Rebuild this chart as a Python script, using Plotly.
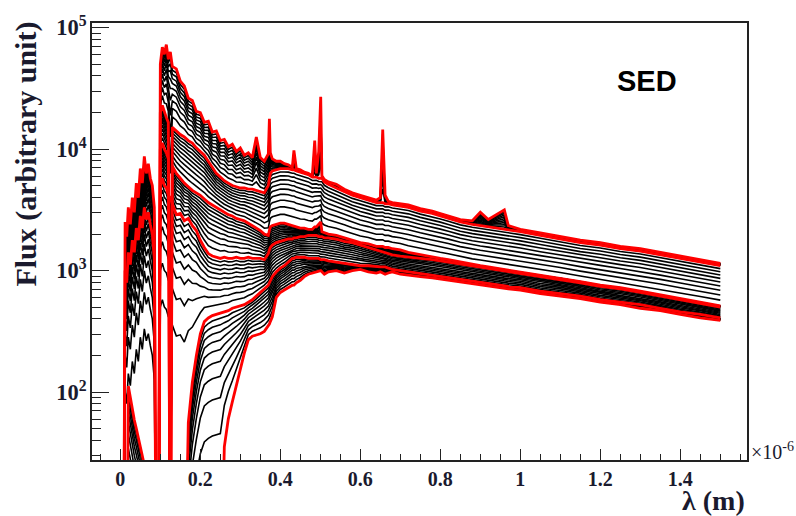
import numpy as np
import plotly.graph_objects as go

# Wavelength grid (micrometres) shared by all templates
wavelength_um = [
    0.008, 0.012, 0.016, 0.020, 0.025, 0.030, 0.035, 0.040, 0.045, 0.050,
    0.055, 0.060, 0.065, 0.070, 0.075, 0.080, 0.085, 0.090, 0.095,
    0.100, 0.105, 0.110, 0.115, 0.120, 0.125, 0.130, 0.140, 0.150, 0.160,
    0.170, 0.180, 0.190, 0.200,
    0.210, 0.220, 0.230, 0.240, 0.250, 0.260, 0.270, 0.280, 0.290, 0.300,
    0.310, 0.320, 0.330, 0.340, 0.350, 0.360, 0.370, 0.3727, 0.375, 0.380, 0.390, 0.400,
    0.410, 0.420, 0.430, 0.434, 0.440, 0.450, 0.460, 0.470, 0.480, 0.486, 0.490, 0.496, 0.501, 0.504,
    0.510, 0.520, 0.540, 0.560, 0.580, 0.600, 0.620, 0.640, 0.650, 0.656, 0.662, 0.670, 0.680,
    0.700, 0.720, 0.750, 0.780, 0.800, 0.820, 0.850, 0.880, 0.900, 0.920, 0.940, 0.960, 0.970,
    1.000, 1.050, 1.100, 1.150, 1.200, 1.250, 1.300, 1.350, 1.400, 1.450, 1.500,
]

# log10 flux of the reference templates (0.0 = no flux at that wavelength)
log_flux_starburst = [
    0.0, 3.40, 3.28, 3.52, 3.38, 3.60, 3.48, 3.72, 3.60, 3.84,
    3.72, 3.94, 3.80, 3.88, 3.76, 3.70, 3.52, 0.0, 0.0,
    4.70, 4.84, 4.78, 4.86, 4.74, 4.80, 4.68, 4.66, 4.56, 4.52,
    4.42, 4.40, 4.31, 4.30,
    4.22, 4.23, 4.14, 4.15, 4.07, 4.08, 4.02, 4.04, 3.98, 4.01,
    3.95, 3.97, 3.93, 4.10, 3.93, 3.90, 3.96, 4.25, 3.97, 3.92, 3.90, 3.90,
    3.88, 3.87, 3.85, 3.99, 3.84, 3.83, 3.81, 3.80, 3.78, 4.07, 3.80, 3.98, 4.43, 3.78,
    3.75, 3.73, 3.71, 3.67, 3.64, 3.62, 3.60, 3.58, 3.60, 4.16, 3.62, 3.57, 3.56,
    3.55, 3.54, 3.51, 3.49, 3.47, 3.45, 3.42, 3.41, 3.48, 3.42, 3.46, 3.50, 3.37,
    3.34, 3.31, 3.28, 3.25, 3.23, 3.20, 3.18, 3.15, 3.12, 3.09, 3.06,
]
log_flux_irregular = [
    0.0, 3.00, 2.90, 3.15, 3.05, 3.25, 3.15, 3.35, 3.25, 3.45,
    3.35, 3.52, 3.42, 3.48, 3.38, 3.30, 3.10, 0.0, 0.0,
    4.30, 4.36, 4.30, 4.26, 4.22, 0.0, 4.18, 4.15, 4.12, 4.10,
    4.07, 4.05, 4.01, 3.98,
    3.95, 3.90, 3.85, 3.80, 3.77, 3.74, 3.72, 3.70, 3.69, 3.68,
    3.68, 3.67, 3.67, 3.66, 3.65, 3.64, 3.70, 3.77, 3.80, 3.82, 3.83, 3.84,
    3.84, 3.84, 3.83, 3.83, 3.82, 3.81, 3.80, 3.79, 3.77, 3.77, 3.77, 3.76, 3.76, 3.76,
    3.73, 3.71, 3.68, 3.65, 3.62, 3.60, 3.58, 3.56, 3.56, 3.56, 3.55, 3.55, 3.54,
    3.53, 3.52, 3.49, 3.47, 3.45, 3.43, 3.40, 3.38, 3.37, 3.36, 3.35, 3.34, 3.34,
    3.32, 3.29, 3.26, 3.23, 3.21, 3.18, 3.16, 3.13, 3.10, 3.07, 3.04,
]
log_flux_scd = [
    0.0, 0.0, 0.0, 0.0, 0.0, 0.0, 0.0, 0.0, 0.0, 0.0,
    0.0, 0.0, 0.0, 0.0, 0.0, 0.0, 0.0, 0.0, 0.0,
    4.00, 4.05, 4.00, 3.97, 3.92, 0.0, 3.86, 3.80, 3.76, 3.72,
    3.69, 3.66, 3.64, 3.62,
    3.59, 3.56, 3.54, 3.52, 3.50, 3.48, 3.46, 3.45, 3.43, 3.42,
    3.41, 3.39, 3.37, 3.35, 3.33, 3.30, 3.29, 3.33, 3.36, 3.37, 3.38, 3.39,
    3.39, 3.38, 3.37, 3.37, 3.36, 3.35, 3.35, 3.34, 3.34, 3.36, 3.36, 3.38, 3.40, 3.32,
    3.31, 3.30, 3.29, 3.27, 3.25, 3.23, 3.22, 3.20, 3.20, 3.20, 3.19, 3.19, 3.18,
    3.17, 3.15, 3.13, 3.11, 3.10, 3.09, 3.07, 3.05, 3.04, 3.03, 3.02, 3.01, 3.00,
    2.99, 2.96, 2.94, 2.91, 2.88, 2.86, 2.83, 2.80, 2.77, 2.74, 2.71,
]
log_flux_sbc = [
    0.0, 0.0, 0.0, 0.0, 0.0, 0.0, 0.0, 0.0, 0.0, 0.0,
    0.0, 0.0, 0.0, 0.0, 0.0, 0.0, 0.0, 0.0, 0.0,
    3.70, 3.76, 3.70, 3.68, 3.62, 3.60, 3.55, 3.46, 3.47, 3.41,
    3.43, 3.37, 3.33, 3.25,
    3.19, 3.14, 3.12, 3.11, 3.10, 3.11, 3.10, 3.10, 3.11, 3.10,
    3.10, 3.11, 3.10, 3.10, 3.10, 3.09, 3.14, 3.17, 3.19, 3.21, 3.23, 3.24,
    3.25, 3.26, 3.26, 3.27, 3.27, 3.28, 3.28, 3.29, 3.29, 3.29, 3.29, 3.28, 3.28, 3.28,
    3.27, 3.27, 3.26, 3.24, 3.23, 3.21, 3.19, 3.17, 3.16, 3.15, 3.15, 3.14, 3.13,
    3.12, 3.11, 3.10, 3.09, 3.08, 3.07, 3.05, 3.04, 3.03, 3.02, 3.01, 3.00, 2.99,
    2.98, 2.95, 2.93, 2.90, 2.87, 2.85, 2.82, 2.79, 2.76, 2.73, 2.70,
]
log_flux_sab = [
    0.0, 0.0, 0.0, 0.0, 0.0, 0.0, 0.0, 0.0, 0.0, 0.0,
    0.0, 0.0, 0.0, 0.0, 0.0, 0.0, 0.0, 0.0, 0.0,
    0.0, 0.0, 0.0, 0.0, 0.0, 0.0, 0.0, 0.0, 0.0, 0.0,
    1.75, 2.08, 2.30, 2.48,
    2.58, 2.61, 2.63, 2.64, 2.65, 2.66, 2.67, 2.69, 2.70, 2.71,
    2.72, 2.74, 2.76, 2.79, 2.82, 2.85, 2.88, 2.90, 2.92, 2.95, 2.99, 3.02,
    3.04, 3.07, 3.10, 3.10, 3.11, 3.11, 3.11, 3.10, 3.10, 3.10, 3.10, 3.10, 3.09, 3.09,
    3.09, 3.08, 3.07, 3.06, 3.05, 3.04, 3.04, 3.03, 3.03, 3.03, 3.03, 3.02, 3.01,
    3.00, 2.99, 2.98, 2.96, 2.95, 2.94, 2.93, 2.91, 2.90, 2.89, 2.88, 2.87, 2.87,
    2.86, 2.83, 2.81, 2.79, 2.76, 2.74, 2.72, 2.69, 2.66, 2.64, 2.61,
]
log_flux_elliptical = [
    0.0, 0.0, 0.0, 2.05, 1.95, 1.86, 1.77, 1.70, 1.62, 1.55,
    1.48, 1.40, 0.0, 0.0, 0.0, 0.0, 0.0, 0.0, 0.0,
    0.0, 0.0, 0.0, 0.0, 0.0, 0.0, 0.0, 0.0, 0.0, 0.0,
    0.0, 0.0, 0.0, 0.0,
    0.0, 0.0, 0.0, 0.0, 0.0, 1.55, 1.78, 1.92, 2.06, 2.19,
    2.32, 2.43, 2.46, 2.47, 2.48, 2.50, 2.54, 2.56, 2.58, 2.62, 2.78, 2.82,
    2.84, 2.86, 2.88, 2.88, 2.90, 2.92, 2.95, 2.97, 2.98, 2.98, 2.99, 2.99, 3.00, 2.99,
    2.97, 2.99, 3.00, 2.98, 3.00, 3.01, 2.99, 2.98, 2.99, 2.98, 2.97, 2.98, 2.99,
    2.97, 2.96, 2.95, 2.94, 2.93, 2.92, 2.91, 2.89, 2.88, 2.87, 2.86, 2.85, 2.85,
    2.84, 2.81, 2.79, 2.77, 2.74, 2.72, 2.69, 2.67, 2.64, 2.61, 2.59,
]

templates = [
    log_flux_starburst, log_flux_irregular, log_flux_scd,
    log_flux_sbc, log_flux_sab, log_flux_elliptical,
]

# Mixing fractions of the interpolated SEDs between neighbouring templates
mix_weights = [0.1, 0.2, 0.3, 0.4, 0.5, 0.6, 0.7, 0.8, 0.9]

x_tick_values = [0, 0.2, 0.4, 0.6, 0.8, 1.0, 1.2, 1.4]
x_tick_labels = ["0", "0.2", "0.4", "0.6", "0.8", "1", "1.2", "1.4"]

lam = np.array(wavelength_um)
flux = [10.0 ** np.array(t) for t in templates]

fig = go.Figure()

# interpolated SEDs (black)
for a, b in zip(flux[:-1], flux[1:]):
    for w in mix_weights:
        fig.add_trace(go.Scatter(
            x=lam, y=(1 - w) * a + w * b, mode="lines",
            line=dict(color="black", width=1.6), hoverinfo="skip",
        ))

# reference templates (red)
for f in flux:
    fig.add_trace(go.Scatter(
        x=lam, y=f, mode="lines",
        line=dict(color="#ff0000", width=2.8), hoverinfo="skip",
    ))

serif = "Liberation Serif"
axis_color = "#222222"
text_color = "#1a1a2e"

fig.update_layout(
    width=796, height=516,
    margin=dict(l=92, r=49, t=14, b=56),
    paper_bgcolor="white", plot_bgcolor="white",
    showlegend=False,
    xaxis=dict(
        range=[-0.0708, 1.5667],
        tickmode="array", tickvals=x_tick_values, ticktext=x_tick_labels,
        ticks="inside", ticklen=11, tickwidth=1.2, tickcolor=axis_color,
        minor=dict(ticks="inside", ticklen=6, tickwidth=1, tickcolor=axis_color,
                   tickmode="linear", tick0=0, dtick=0.05),
        showline=True, linewidth=1.6, linecolor=axis_color, mirror=True,
        showgrid=False, zeroline=False,
        tickfont=dict(family=serif, size=20, color=text_color, weight="bold"),
    ),
    yaxis=dict(
        type="log", range=[1.441, 5.038],
        dtick=1, exponentformat="power", showexponent="all",
        ticks="inside", ticklen=17, tickwidth=1.2, tickcolor=axis_color,
        minor=dict(ticks="inside", ticklen=9, tickwidth=1, tickcolor=axis_color,
                   dtick="D1"),
        showline=True, linewidth=1.6, linecolor=axis_color, mirror=True,
        showgrid=False, zeroline=False,
        tickfont=dict(family=serif, size=18, color=text_color, weight="bold"),
    ),
)

fig.add_annotation(
    text="Flux (arbitrary unit)", textangle=-90,
    xref="paper", yref="paper", x=-0.1, y=0.70,
    xanchor="center", yanchor="middle", showarrow=False,
    font=dict(family=serif, size=30, color=text_color, weight="bold"),
)
fig.add_annotation(
    text="λ (m)", xref="paper", yref="paper", x=1.0, y=-0.092,
    xanchor="right", yanchor="middle", showarrow=False,
    font=dict(family=serif, size=28, color=text_color, weight="bold"),
)
fig.add_annotation(
    text="×10<sup>-6</sup>", xref="paper", yref="paper", x=1.003, y=0.02,
    xanchor="left", yanchor="middle", showarrow=False,
    font=dict(family=serif, size=20, color=text_color),
)
fig.add_annotation(
    text="SED", xref="paper", yref="paper", x=0.847, y=0.868,
    xanchor="center", yanchor="middle", showarrow=False,
    font=dict(family="Liberation Sans", size=29, color="black", weight="bold"),
)

fig.write_html("out.html")
